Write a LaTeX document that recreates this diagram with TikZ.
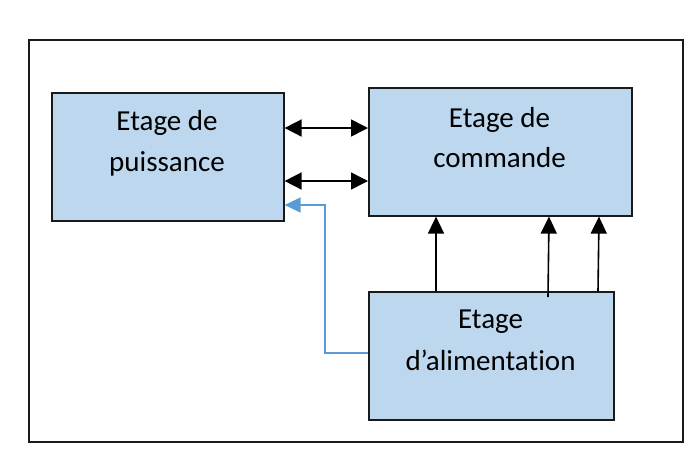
\documentclass[tikz,border=0pt]{standalone}
\usepackage{fontspec}
\setmainfont[Ligatures=NoCommon]{Carlito}
\usetikzlibrary{arrows.meta}
\definecolor{boxfill}{HTML}{BDD7EE}
\definecolor{linkblue}{HTML}{5B9BD5}
\definecolor{edge}{HTML}{1A1A1A}
\begin{document}
\begin{tikzpicture}[x=1pt,y=-1pt,
  stage/.style={draw=edge,line width=1.6pt,fill=boxfill,inner sep=0pt,anchor=north west},
  lbl/.style={anchor=base,inner sep=0pt,font=\fontsize{29}{35}\selectfont},
  link/.style={line width=1.6pt,-{Triangle[length=17pt,width=16pt]}},
  dlink/.style={line width=1.6pt,{Triangle[length=17pt,width=17pt]}-{Triangle[length=17pt,width=17pt]}},
  plink/.style={draw=linkblue,line width=1.4pt,-{Triangle[length=16pt,width=15pt]}}]
\useasboundingbox (0,0) rectangle (700,459);
\node[draw=edge,line width=1.5pt,inner sep=0pt,anchor=north west,minimum width=654pt,minimum height=402pt] (frame) at (28,39) {};
\node[stage,minimum width=232pt,minimum height=128pt] (pu) at (51,92) {};
\node[stage,minimum width=263pt,minimum height=128pt] (cm) at (368,87) {};
\node[stage,minimum width=245pt,minimum height=128pt] (al) at (368,291) {};
\node[lbl] (pu1) at (167,130) {Etage de};
\node[lbl] (pu2) at (167,171) {puissance};
\node[lbl] (cm1) at (499.5,127) {Etage de};
\node[lbl] (cm2) at (499.5,167) {commande};
\node[lbl] (al1) at (490.5,328) {Etage};
\node[lbl] (al2) at (490.5,370) {d’alimentation};
\coordinate (b1) at (548,297);
\coordinate (t1) at (549,215);
\coordinate (bend1) at (325,353);
\coordinate (bend2) at (325,205);
\draw[dlink] (pu.east |- 0,128) -- (cm.west |- 0,128);
\draw[dlink] (pu.east |- 0,181) -- (cm.west |- 0,181);
\draw[link] (al.north -| 436,0) -- (cm.south -| 436,0);
\draw[link] (b1) -- (cm.south -| t1);
\draw[link] (al.north -| 598,0) -- (cm.south -| 599,0);
\draw[plink] (al.west |- bend1) -- (bend1) -- (bend2) -- (pu.east |- bend2);
\end{tikzpicture}
\end{document}
